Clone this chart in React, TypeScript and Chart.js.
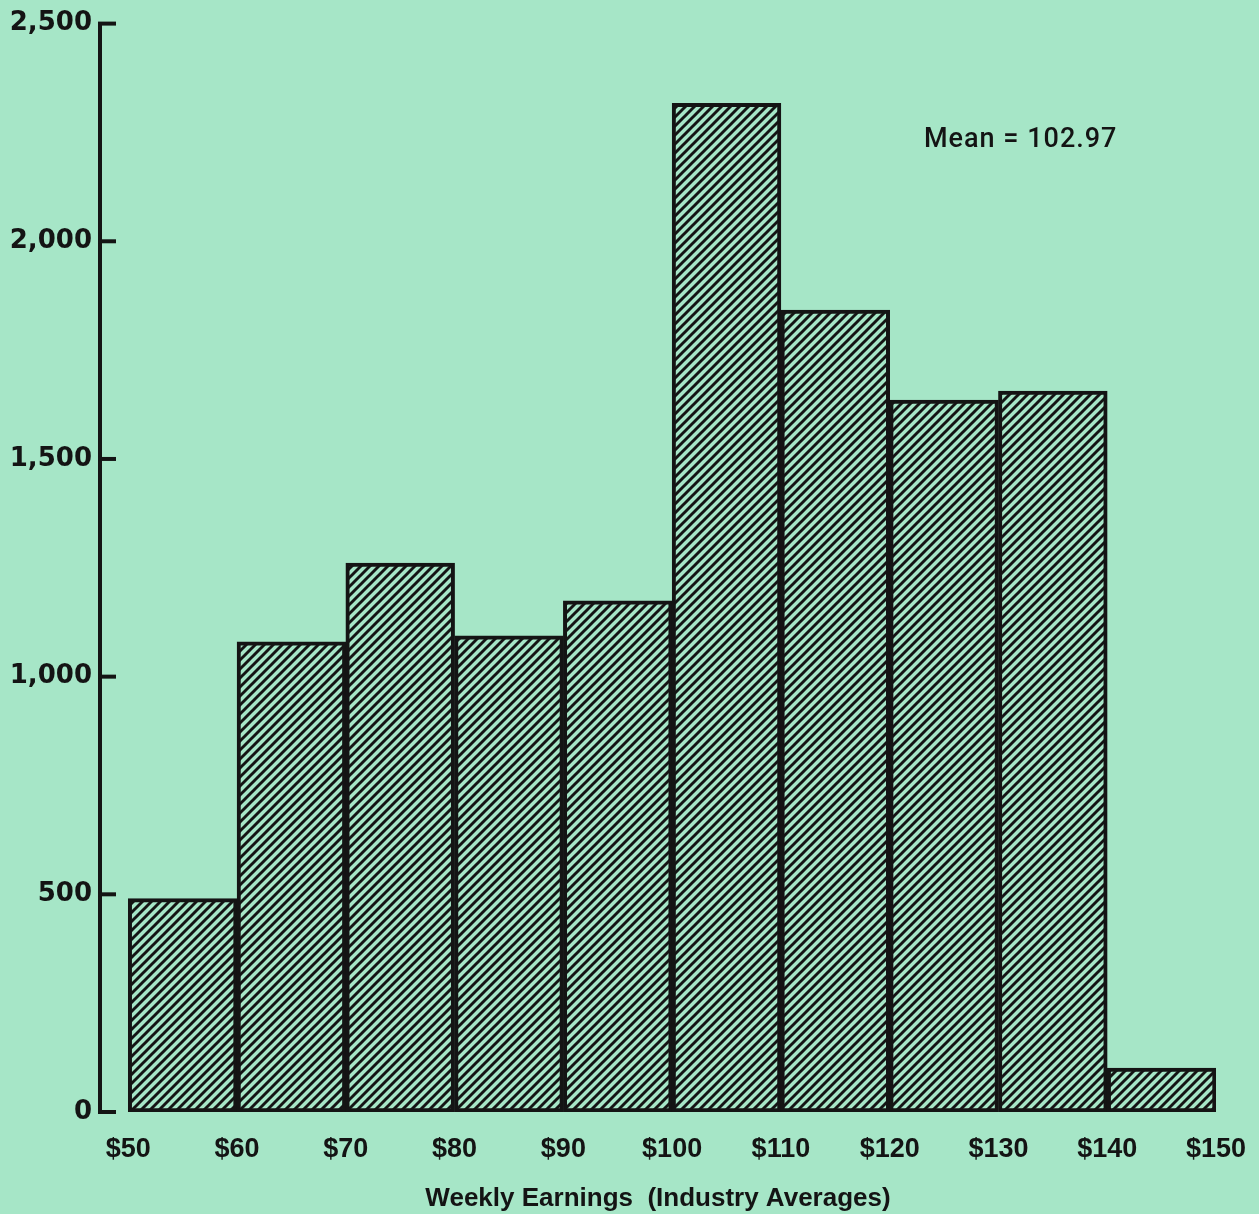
import React, { useEffect, useRef } from 'react';
import { Chart, registerables } from 'chart.js';

Chart.register(...registerables);

// ---- data ----
const binStarts = [50, 60, 70, 80, 90, 100, 110, 120, 130, 140];
const counts = [490, 1080, 1261, 1094, 1174, 2317, 1842, 1635, 1656, 101];
const binWidth = 10;
const xTickValues = [50, 60, 70, 80, 90, 100, 110, 120, 130, 140, 150];
const yTickValues = [0, 500, 1000, 1500, 2000, 2500];
const meanLabel = 'Mean = 102.97';
const meanPos = { x: 123.15, y: 2232 };
const xTitle = 'Weekly Earnings  (Industry Averages)';

const BG = '#a6e6c7';
const INK = '#141414';

function makeHatch(): CanvasPattern | string {
  const s = 9;
  const c = document.createElement('canvas');
  c.width = s;
  c.height = s;
  const g = c.getContext('2d');
  if (!g) return BG;
  g.fillStyle = BG;
  g.fillRect(0, 0, s, s);
  g.strokeStyle = INK;
  g.lineWidth = 2.9;
  g.beginPath();
  for (const k of [-s, 0, s]) {
    g.moveTo(k - 1, s + 1);
    g.lineTo(k + s + 1, -1);
  }
  g.stroke();
  return g.createPattern(c, 'repeat') || BG;
}

const innerTicksPlugin = {
  id: 'innerTicks',
  afterDatasetsDraw(chart: any) {
    const { ctx, chartArea } = chart;
    const y = chart.scales.y;
    ctx.save();
    ctx.strokeStyle = INK;
    ctx.lineWidth = 4;
    ctx.lineCap = 'butt';
    for (const v of yTickValues) {
      const py = y.getPixelForValue(v);
      ctx.beginPath();
      ctx.moveTo(chartArea.left - 2, py);
      ctx.lineTo(chartArea.left + 16, py);
      ctx.stroke();
    }
    ctx.restore();
  },
};

const meanPlugin = {
  id: 'meanText',
  afterDraw(chart: any) {
    const { ctx } = chart;
    const px = chart.scales.x.getPixelForValue(meanPos.x);
    const py = chart.scales.y.getPixelForValue(meanPos.y);
    ctx.save();
    ctx.fillStyle = INK;
    ctx.font = '500 27px Roboto, "Liberation Sans", sans-serif';
    try {
      (ctx as any).letterSpacing = '1px';
    } catch (e) {
      /* ignore */
    }
    ctx.textAlign = 'left';
    ctx.textBaseline = 'middle';
    ctx.fillText(meanLabel, px, py);
    ctx.restore();
  },
};

export default function App() {
  const ref = useRef<HTMLCanvasElement | null>(null);

  useEffect(() => {
    if (!ref.current) return;
    const hatch = makeHatch();
    const chart = new Chart(ref.current, {
      type: 'bar',
      data: {
        datasets: [
          {
            data: binStarts.map((b, i) => ({ x: b + binWidth / 2, y: counts[i] })),
            backgroundColor: hatch as any,
            borderColor: INK,
            borderWidth: 4,
            borderSkipped: false,
            barPercentage: 1,
            categoryPercentage: 1,
          },
        ],
      },
      options: {
        animation: false,
        responsive: false,
        devicePixelRatio: 1,
        layout: { padding: { top: 20, right: 43, left: 0, bottom: 0 } },
        plugins: { legend: { display: false }, tooltip: { enabled: false } },
        scales: {
          x: {
            type: 'linear',
            offset: false,
            min: 47.4,
            max: 150,
            grid: { display: false, drawTicks: false },
            border: { display: false },
            afterBuildTicks: (scale: any) => {
              scale.ticks = xTickValues.map((v) => ({ value: v }));
            },
            afterFit: (scale: any) => {
              scale.height = 102;
              scale.paddingLeft = 0;
              scale.paddingRight = 0;
            },
            ticks: {
              autoSkip: false,
              maxRotation: 0,
              padding: 21,
              color: INK,
              font: { family: '"Liberation Sans", Arial, sans-serif', size: 27, weight: 'bold' },
              callback: (v: any) => '$' + v,
            },
            title: {
              display: true,
              text: xTitle,
              color: INK,
              padding: { top: 0, bottom: 0 },
              font: { family: '"Liberation Sans", Arial, sans-serif', size: 26, weight: 'bold' },
            },
          },
          y: {
            min: 0,
            max: 2500,
            grid: { display: false, drawTicks: false },
            border: { display: true, color: INK, width: 4 },
            afterBuildTicks: (scale: any) => {
              scale.ticks = yTickValues.map((v) => ({ value: v }));
            },
            afterFit: (scale: any) => {
              scale.width = 100;
            },
            ticks: {
              padding: 8,
              color: INK,
              font: { family: '"DejaVu Sans", sans-serif', size: 26, weight: 'bold' },
              callback: (v: any) => Number(v).toLocaleString('en-US'),
            },
          },
        },
      },
      plugins: [innerTicksPlugin, meanPlugin],
    });
    return () => chart.destroy();
  }, []);

  return (
    <div
      style={{
        position: 'fixed',
        left: 0,
        top: 0,
        width: 1259,
        height: 1214,
        background: BG,
      }}
    >
      <canvas ref={ref} width={1259} height={1214} style={{ display: 'block', width: 1259, height: 1214 }} />
    </div>
  );
}
